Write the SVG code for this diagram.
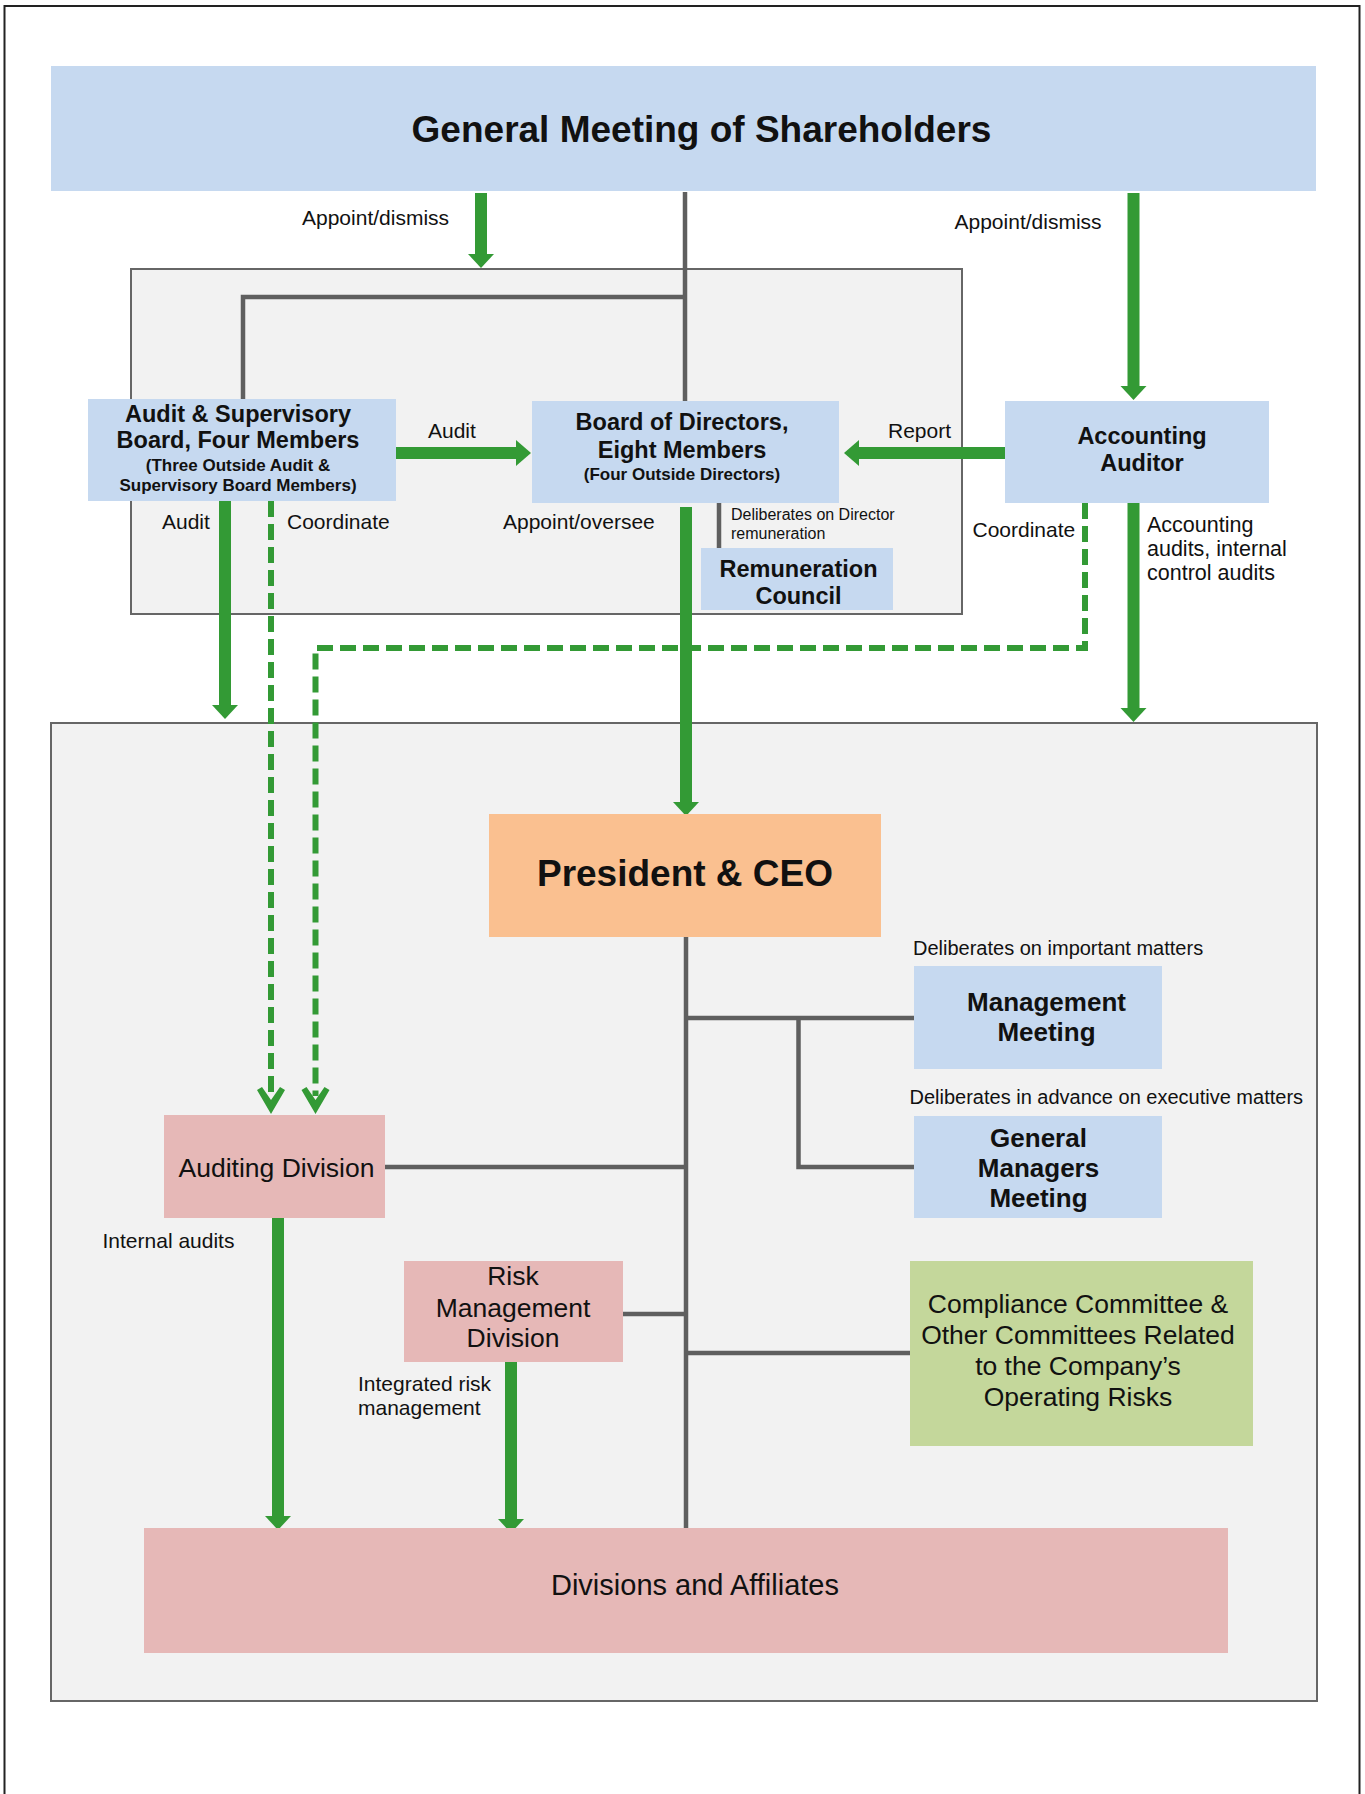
<svg xmlns="http://www.w3.org/2000/svg" width="1365" height="1794" viewBox="0 0 1365 1794">
<style>
  text { font-family: "Liberation Sans", Arial, sans-serif; fill: #111; }
  .b { font-weight: bold; }
  .lbl { font-size: 21px; }
  .sm { font-size: 16px; }
  .mid { text-anchor: middle; }
  .blue { fill: #c6d9f0; }
  .pink { fill: #e6b8b7; }
  .area { fill: #f2f2f2; stroke: #666; stroke-width: 2; }
  .gl { stroke: #5f5f5f; stroke-width: 4.5; fill: none; }
  .gs { stroke: #339a35; stroke-width: 12; fill: none; }
  .gd { stroke: #339a35; stroke-width: 6; fill: none; stroke-dasharray: 16 7; }
  .ah { fill: #339a35; }
</style>
<rect x="4.5" y="6" width="1355" height="1800" fill="#fff" stroke="#222" stroke-width="2"/>
<rect class="area" x="131" y="269" width="831" height="345"/>
<rect class="area" x="51" y="723" width="1266" height="978"/>

<g id="connectors">
  <path class="gl" d="M685 192V401"/>
  <path class="gl" d="M685 297H243V399"/>
  <path class="gl" d="M719 503V548" stroke-width="4"/>
  <path class="gl" d="M686 937V1528"/>
  <path class="gl" d="M686 1018H914"/>
  <path class="gl" d="M798.5 1018V1167H914"/>
  <path class="gl" d="M385 1167H686"/>
  <path class="gl" d="M623 1314H686"/>
  <path class="gl" d="M686 1353H910"/>

  <path class="gs" d="M481 193V255"/>
  <polygon class="ah" points="468,254 494,254 481,268"/>
  <path class="gs" d="M1133.5 193V387"/>
  <polygon class="ah" points="1120.5,386 1146.5,386 1133.5,400"/>
  <path class="gs" d="M396 453H517"/>
  <polygon class="ah" points="516,440 516,466 531,453"/>
  <path class="gs" d="M1005 453H858"/>
  <polygon class="ah" points="859,440 859,466 844,453"/>
  <path class="gs" d="M225 501V706"/>
  <polygon class="ah" points="212,705 238,705 225,719"/>
  <path class="gs" d="M686 507V803"/>
  <polygon class="ah" points="673,802 699,802 686,816"/>
  <path class="gs" d="M1133.5 503V709"/>
  <polygon class="ah" points="1120.5,708 1146.5,708 1133.5,722"/>
  <path class="gs" d="M278 1218V1517"/>
  <polygon class="ah" points="265,1516 291,1516 278,1530"/>
  <path class="gs" d="M511 1362V1520"/>
  <polygon class="ah" points="498,1519 524,1519 511,1533"/>

  <path class="gd" d="M271 501V1096"/>
  <polygon class="ah" points="257,1090 262,1087 271,1100 280,1087 285,1090 271,1114"/>
  <path class="gd" d="M1085 503V648H315.5V1096"/>
  <polygon class="ah" points="301.5,1090 306.5,1087 315.5,1100 324.5,1087 329.5,1090 315.5,1114"/>
</g>

<g id="labels">
  <text class="lbl" x="302" y="225">Appoint/dismiss</text>
  <text class="lbl" x="954.5" y="229">Appoint/dismiss</text>
  <text class="lbl" x="428" y="438">Audit</text>
  <text class="lbl" x="888" y="438">Report</text>
  <text class="lbl" x="162" y="529">Audit</text>
  <text class="lbl" x="287" y="529">Coordinate</text>
  <text class="lbl" x="503" y="529">Appoint/oversee</text>
  <text class="sm" x="731" y="520">Deliberates on Director</text>
  <text class="sm" x="731" y="538.5">remuneration</text>
  <text class="lbl" x="972.5" y="537">Coordinate</text>
  <text font-size="21.5" x="1147" y="532">Accounting</text>
  <text font-size="21.5" x="1147" y="556">audits, internal</text>
  <text font-size="21.5" x="1147" y="580">control audits</text>
  <text font-size="20" x="913" y="955">Deliberates on important matters</text>
  <text font-size="20" x="909.5" y="1104">Deliberates in advance on executive matters</text>
  <text class="lbl" x="102.5" y="1248">Internal audits</text>
  <text class="lbl" x="358" y="1391">Integrated risk</text>
  <text class="lbl" x="358" y="1415">management</text>
</g>

<g id="gms">
  <rect class="blue" x="51" y="66" width="1265" height="125"/>
  <text class="b mid" font-size="37" x="701.5" y="142">General Meeting of Shareholders</text>
</g>
<g id="audit-board">
  <rect class="blue" x="88" y="399" width="308" height="102"/>
  <text class="b mid" font-size="23.5" x="238" y="422">Audit &amp; Supervisory</text>
  <text class="b mid" font-size="23.5" x="238" y="448">Board, Four Members</text>
  <text class="b mid" font-size="17" x="238" y="471">(Three Outside Audit &amp;</text>
  <text class="b mid" font-size="17" x="238" y="491">Supervisory Board Members)</text>
</g>
<g id="board">
  <rect class="blue" x="532" y="401" width="307" height="102"/>
  <text class="b mid" font-size="23.5" x="682" y="430">Board of Directors,</text>
  <text class="b mid" font-size="23.5" x="682" y="458">Eight Members</text>
  <text class="b mid" font-size="17" x="682" y="480">(Four Outside Directors)</text>
</g>
<g id="accounting-auditor">
  <rect class="blue" x="1005" y="401" width="264" height="102"/>
  <text class="b mid" font-size="23.5" x="1142" y="444">Accounting</text>
  <text class="b mid" font-size="23.5" x="1142" y="471">Auditor</text>
</g>
<g id="remuneration">
  <rect class="blue" x="701" y="548" width="192" height="62"/>
  <text class="b mid" font-size="23.5" x="798.5" y="577">Remuneration</text>
  <text class="b mid" font-size="23.5" x="798.5" y="603.5">Council</text>
</g>
<g id="president">
  <rect fill="#fac090" x="489" y="814" width="392" height="123"/>
  <text class="b mid" font-size="37" x="685" y="886">President &amp; CEO</text>
</g>
<g id="management-meeting">
  <rect class="blue" x="914" y="966" width="248" height="103"/>
  <text class="b mid" font-size="26" x="1046.5" y="1011">Management</text>
  <text class="b mid" font-size="26" x="1046.5" y="1041">Meeting</text>
</g>
<g id="gm-meeting">
  <rect class="blue" x="914" y="1116" width="248" height="102"/>
  <text class="b mid" font-size="26" x="1038.5" y="1146.5">General</text>
  <text class="b mid" font-size="26" x="1038.5" y="1177">Managers</text>
  <text class="b mid" font-size="26" x="1038.5" y="1206.5">Meeting</text>
</g>
<g id="auditing-division">
  <rect class="pink" x="164" y="1115" width="221" height="103"/>
  <text class="mid" font-size="26.5" x="276.5" y="1177">Auditing Division</text>
</g>
<g id="risk-management">
  <rect class="pink" x="404" y="1261" width="219" height="101"/>
  <text class="mid" font-size="26.5" x="513" y="1285">Risk</text>
  <text class="mid" font-size="26.5" x="513" y="1317">Management</text>
  <text class="mid" font-size="26.5" x="513" y="1347">Division</text>
</g>
<g id="compliance">
  <rect fill="#c4d79b" x="910" y="1261" width="343" height="185"/>
  <text class="mid" font-size="26.5" x="1078" y="1313">Compliance Committee &amp;</text>
  <text class="mid" font-size="26.5" x="1078" y="1344">Other Committees Related</text>
  <text class="mid" font-size="26.5" x="1078" y="1375">to the Company’s</text>
  <text class="mid" font-size="26.5" x="1078" y="1406">Operating Risks</text>
</g>
<g id="divisions">
  <rect class="pink" x="144" y="1528" width="1084" height="125"/>
  <text class="mid" font-size="29" x="695" y="1595">Divisions and Affiliates</text>
</g>
</svg>
